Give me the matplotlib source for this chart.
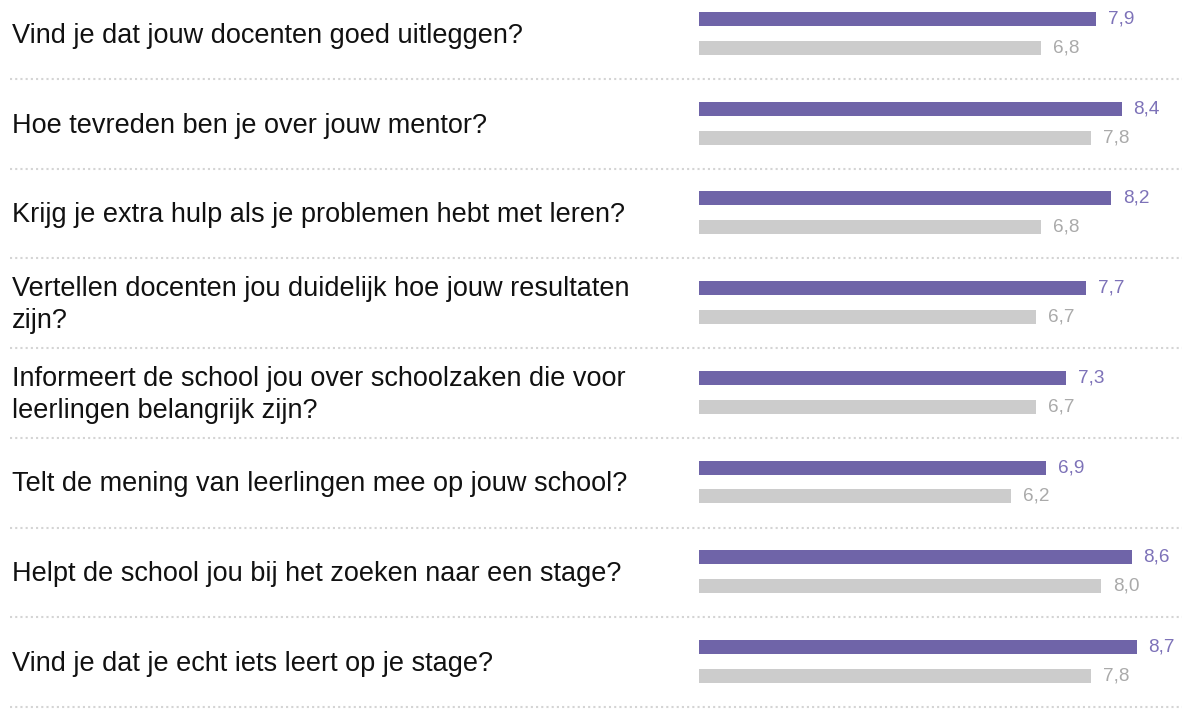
import numpy as np
import matplotlib.pyplot as plt

# vragen en scores (school vs. landelijk)
vragen = [
    "Vind je dat jouw docenten goed uitleggen?",
    "Hoe tevreden ben je over jouw mentor?",
    "Krijg je extra hulp als je problemen hebt met leren?",
    "Vertellen docenten jou duidelijk hoe jouw resultaten\nzijn?",
    "Informeert de school jou over schoolzaken die voor\nleerlingen belangrijk zijn?",
    "Telt de mening van leerlingen mee op jouw school?",
    "Helpt de school jou bij het zoeken naar een stage?",
    "Vind je dat je echt iets leert op je stage?",
]
school = [7.9, 8.4, 8.2, 7.7, 7.3, 6.9, 8.6, 8.7]
landelijk = [6.8, 7.8, 6.8, 6.7, 6.7, 6.2, 8.0, 7.8]

paars = "#6f64a8"
grijs = "#cccccc"

plt.rcParams['font.family'] = ['Liberation Sans', 'DejaVu Sans']

fig = plt.figure(figsize=(11.82, 7.09), dpi=100)
ax = fig.add_axes([0, 0, 1, 1])

rows = np.arange(len(vragen))
ax.barh(rows + 0.331, school, height=0.156, color=paars, left=0)
ax.barh(rows + 0.654, landelijk, height=0.156, color=grijs, left=0)

for i in rows:
    ax.annotate(f"{school[i]:.1f}".replace(".", ","), (school[i], i + 0.331),
                xytext=(12, 0), textcoords='offset pixels', va='center',
                ha='left', fontsize=13.7, color="#7d72b8")
    ax.annotate(f"{landelijk[i]:.1f}".replace(".", ","), (landelijk[i], i + 0.654),
                xytext=(12, 0), textcoords='offset pixels', va='center',
                ha='left', fontsize=13.7, color="#aaaaaa")
    ax.text(12 / 1182, i + 0.52, vragen[i], transform=ax.get_yaxis_transform(),
            ha='left', va='center', fontsize=19.5, color="#111111",
            linespacing=1.28)
    ax.axhline(i + 1, xmin=10 / 1182, xmax=1, color="#d4d4d4",
               linestyle=(0, (1, 1.5)), linewidth=1.5)

# 699 px = 0, 50.3 px per eenheid
ax.set_xlim(-699 / 50.3, (1182 - 699) / 50.3)
ax.set_ylim(0.119 + 709 / 89.7, 0.119)
ax.axis('off')

plt.savefig("out.png", dpi=100)
